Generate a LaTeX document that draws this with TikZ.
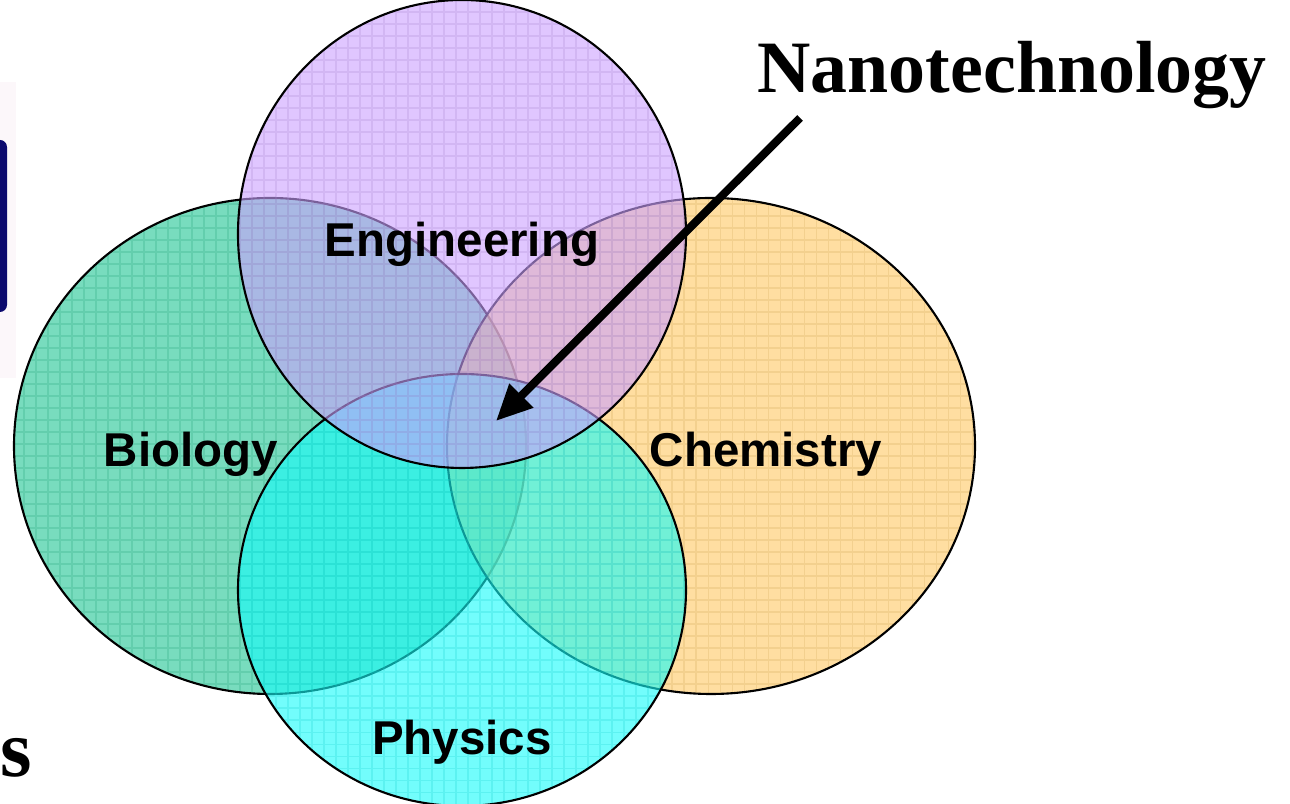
\documentclass[tikz,border=0pt]{standalone}
\usepackage{fontspec}
\setmainfont{Liberation Serif}
\setsansfont{Liberation Sans}
\usetikzlibrary{arrows.meta}
\definecolor{bioC}{RGB}{30,196,146}
\definecolor{chemC}{RGB}{255,200,98}
\definecolor{engC}{RGB}{203,160,255}
\definecolor{phyC}{RGB}{20,252,250}
\definecolor{navy}{RGB}{12,10,110}
\definecolor{paleback}{RGB}{252,247,250}
\tikzset{
  venn/.style={draw=black, line width=0.6pt},
  lbl/.style={font=\sffamily\bfseries\fontsize{13.5}{16}\selectfont, inner sep=0pt},
  big/.style={font=\rmfamily\bfseries\fontsize{21}{25}\selectfont, inner sep=0pt},
  pointer/.style={line width=2.3pt, -{Triangle[length=0.36cm, width=0.32cm]}}
}
\newcommand{\vennset}[5]{%
  \begin{scope}
    \clip (#1,#2) ellipse [x radius=#3, y radius=#4];
    \fill[#5, opacity=0.6] (#1,#2) ellipse [x radius=#3, y radius=#4];
    \draw[#5!80!black, opacity=0.22, line width=0.5pt] (-12,-12) grid[step=0.12cm] (1300,810);
  \end{scope}
  \draw[venn] (#1,#2) ellipse [x radius=#3, y radius=#4];}
\begin{document}
\begin{tikzpicture}[x=0.01cm, y=-0.01cm]
  \useasboundingbox (0,0) rectangle (1290,804);
  % partial picture at the left edge
  \fill[paleback] (0,82) rectangle (16,378);
  \fill[navy, rounded corners=2pt] (-10,140) rectangle (7,312);
  % sets
  \vennset{270}{446}{256}{248}{bioC}
  \vennset{711}{446}{264}{248}{chemC}
  \vennset{462}{590}{224}{216}{phyC}
  \vennset{462}{234}{224}{234}{engC}
  % labels
  \node[lbl, anchor=base] (eng) at (462,257) {Engineering};
  \node[lbl, anchor=base] (bio) at (191,467) {Biology};
  \node[lbl, anchor=base] (chem) at (766,467) {Chemistry};
  \node[lbl, anchor=base] (phy) at (462,755) {Physics};
  \node[big, anchor=base] (nano) at (1012,93) {Nanotechnology};
  \node[big, anchor=base west, font=\rmfamily\bfseries\fontsize{23}{28}\selectfont] (s) at (0,777) {s};
  % arrow
  \coordinate (astart) at (800,118);
  \coordinate (atip) at (496,421);
  \draw[pointer] (astart) -- (atip);
\end{tikzpicture}
\end{document}
